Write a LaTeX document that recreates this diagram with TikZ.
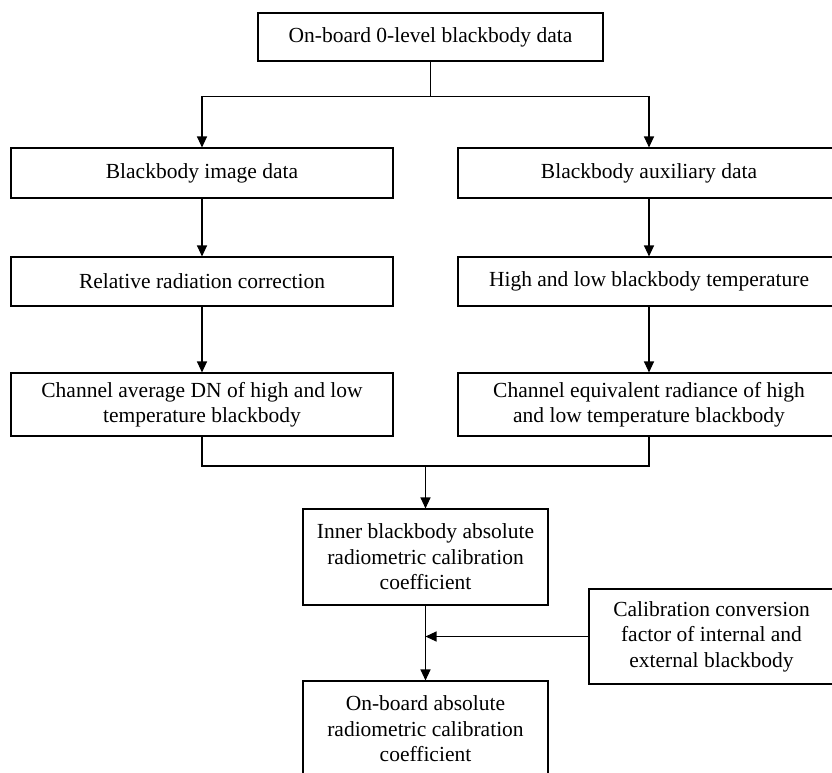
\documentclass[tikz,border=0pt]{standalone}
\usepackage{fontspec}
\setmainfont{Liberation Serif}
\usetikzlibrary{arrows.meta}
\begin{document}
\begin{tikzpicture}[x=1pt,y=1pt,
  box/.style={draw, line width=1.1pt, rectangle, inner sep=0pt, align=center,
    font=\fontsize{21.5}{25.5}\selectfont},
  arr/.style={line width=1.1pt, -{Triangle[length=11pt,width=10pt]}},
  ln/.style={line width=1.1pt}]
\useasboundingbox (0,0) rectangle (832,-772);
\clip (0,0) rectangle (832,-772);
\node[box, minimum width=345, minimum height=48] (top) at (430.5,-37) {On-board 0-level blackbody data};
\node[box, minimum width=382, minimum height=50] (bimg) at (202,-173) {Blackbody image data};
\node[box, minimum width=382, minimum height=50] (baux) at (649,-173) {Blackbody auxiliary data};
\node[box, minimum width=382, minimum height=49] (rel) at (202,-281.5) {Relative radiation correction};
\node[box, minimum width=382, minimum height=49] (hl) at (649,-281.5) {High and low blackbody temperature};
\node[box, minimum width=382, minimum height=63] (chavg) at (202,-404.5) {Channel average DN of high and low\\temperature blackbody};
\node[box, minimum width=382, minimum height=63] (cheq) at (649,-404.5) {Channel equivalent radiance of high\\and low temperature blackbody};
\node[box, minimum width=245, minimum height=96] (inner) at (425.5,-557) {Inner blackbody absolute\\radiometric calibration\\coefficient};
\node[box, minimum width=245, minimum height=95] (calib) at (711.5,-636.5) {Calibration conversion\\factor of internal and\\external blackbody};
\node[box, minimum width=245, minimum height=96] (onb) at (425.5,-729) {On-board absolute\\radiometric calibration\\coefficient};
\draw[ln] (top.south) -- ++(0,-35) coordinate (split);
\draw[arr] (split) -| (bimg.north);
\draw[arr] (split) -| (baux.north);
\draw[arr] (bimg) -- (rel);
\draw[arr] (rel) -- (chavg);
\draw[arr] (baux) -- (hl);
\draw[arr] (hl) -- (cheq);
\coordinate (merge) at (425.5,-466);
\draw[ln] (chavg.south) |- (merge) -| (cheq.south);
\draw[arr] (merge) -- (inner.north);
\draw[arr] (inner) -- (onb);
\draw[arr] (calib.west) -- (calib.west -| inner.south);
\end{tikzpicture}
\end{document}
